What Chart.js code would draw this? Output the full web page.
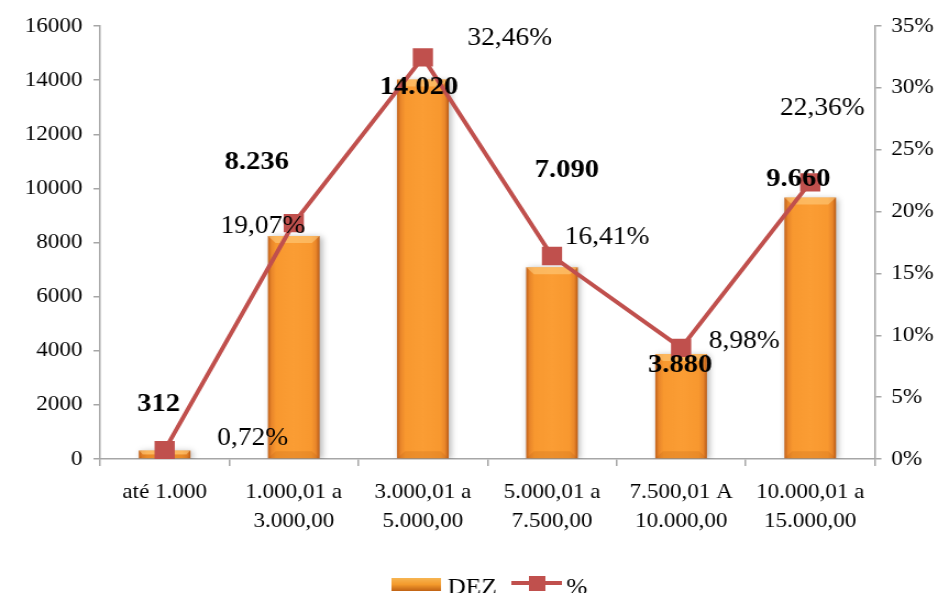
<!DOCTYPE html>
<html lang="pt">
<head>
    <meta charset="UTF-8">
    <title>DEZ - faixas</title>
    <script src="https://cdn.jsdelivr.net/npm/chart.js"></script>
    <style>
        body{margin:0; background:#fff; overflow:hidden;}
    </style>
</head>
<body>
    <!-- canvas drawn a bit narrower and widened by css (stretched serif text) -->
    <canvas id="myChart" width="863" height="593" style="width:949px;height:593px"></canvas>
    <script>
        const faixas = [['até 1.000'], ['1.000,01 a', '3.000,00'], ['3.000,01 a', '5.000,00'],
                        ['5.000,01 a', '7.500,00'], ['7.500,01 A', '10.000,00'], ['10.000,01 a', '15.000,00']]
        const dez = [312, 8236, 14020, 7090, 3880, 9660]
        const dezTexto = ['312', '8.236', '14.020', '7.090', '3.880', '9.660']
        const perc = [0.72, 19.07, 32.46, 16.41, 8.98, 22.36]
        const percTexto = ['0,72%', '19,07%', '32,46%', '16,41%', '8,98%', '22,36%']

        // where excel left the data labels, offset from each mark (px)
        const offDez = [[-6, -46], [-37, -74], [-4, 8], [15, -97], [-1, 11], [-12, -18]]
        const offPerc = [[88, -12], [-31, 3], [87, -19], [55, -19], [63, -6], [12, -74]]

        const SERIF = '"Liberation Serif", "Times New Roman", serif'
        const VERMELHO = '#c0504d'
        const CINZA = '#a6a6a6'
        const BAR_FRAC = 0.4
        const SX = 949 / 863

        function gradBarra(ctx, x0, x1){
            const g = ctx.createLinearGradient(x0, 0, x1, 0)
            g.addColorStop(0, '#c0601a')
            g.addColorStop(0.07, '#e9862a')
            g.addColorStop(0.16, '#f8982f')
            g.addColorStop(0.5, '#fb9d34')
            g.addColorStop(0.84, '#f8982f')
            g.addColorStop(0.93, '#e9862a')
            g.addColorStop(1, '#b85a16')
            return g
        }

        const sombra = {
            id: 'sombra',
            beforeDatasetDraw(chart, args){
                if(args.meta.type !== 'bar') return
                const ctx = chart.ctx
                ctx.save()
                ctx.shadowColor = 'rgba(0,0,0,0.3)'
                ctx.shadowBlur = 6
                ctx.shadowOffsetX = 2
                ctx.shadowOffsetY = 1
            },
            afterDatasetDraw(chart, args){
                if(args.meta.type !== 'bar') return
                const ctx = chart.ctx
                ctx.restore()
                // bevel: light strip on top, slightly darker one at the base
                ctx.save()
                args.meta.data.forEach(function(b){
                    const h = Math.min(7, (b.base - b.y) / 2)
                    const l = b.x - b.width / 2, r = b.x + b.width / 2
                    ctx.fillStyle = 'rgba(255,214,140,0.5)'
                    ctx.beginPath()
                    ctx.moveTo(l, b.y)
                    ctx.lineTo(r, b.y)
                    ctx.lineTo(r - h, b.y + h)
                    ctx.lineTo(l + h, b.y + h)
                    ctx.closePath()
                    ctx.fill()
                    ctx.fillStyle = 'rgba(170,85,10,0.18)'
                    ctx.beginPath()
                    ctx.moveTo(l, b.base)
                    ctx.lineTo(r, b.base)
                    ctx.lineTo(r - h, b.base - h)
                    ctx.lineTo(l + h, b.base - h)
                    ctx.closePath()
                    ctx.fill()
                })
                ctx.restore()
            }
        }

        const rotulos = {
            id: 'rotulos',
            afterDatasetsDraw(chart){
                const ctx = chart.ctx
                const barras = chart.getDatasetMeta(1).data
                const pontos = chart.getDatasetMeta(0).data
                ctx.save()
                ctx.fillStyle = '#000'
                ctx.textAlign = 'center'
                ctx.textBaseline = 'middle'
                ctx.font = 'bold 26px ' + SERIF
                barras.forEach(function(b, i){
                    ctx.fillText(dezTexto[i], b.x + offDez[i][0] / SX, b.y + offDez[i][1])
                })
                ctx.font = '25px ' + SERIF
                pontos.forEach(function(p, i){
                    ctx.fillText(percTexto[i], p.x + offPerc[i][0] / SX, p.y + offPerc[i][1])
                })
                ctx.restore()
            }
        }

        // legend drawn by hand: gradient swatch + line with square marker
        const legenda = {
            id: 'legenda',
            afterDraw(chart){
                const ctx = chart.ctx
                const y = 584
                ctx.save()
                const g = ctx.createLinearGradient(0, y - 6, 0, y + 7)
                g.addColorStop(0, '#f7b552')
                g.addColorStop(0.5, '#f39a2c')
                g.addColorStop(1, '#c06214')
                ctx.fillStyle = g
                ctx.fillRect(356, y - 6, 45, 13)
                ctx.fillStyle = '#000'
                ctx.font = '23px ' + SERIF
                ctx.textBaseline = 'alphabetic'
                ctx.fillText('DEZ', 407, 594)
                ctx.strokeStyle = VERMELHO
                ctx.lineWidth = 4
                ctx.beginPath()
                ctx.moveTo(465, y - 1)
                ctx.lineTo(511, y - 1)
                ctx.stroke()
                ctx.fillStyle = VERMELHO
                ctx.fillRect(481, y - 8, 15, 15)
                ctx.fillStyle = '#000'
                ctx.fillText('%', 515, 594)
                ctx.restore()
            }
        }

        const ctx = document.getElementById('myChart').getContext('2d')
        const myChart = new Chart(ctx, {
            data: {
                labels: faixas,
                datasets: [{
                    type: 'line',
                    label: '%',
                    data: perc,
                    yAxisID: 'y1',
                    order: 0,
                    borderColor: VERMELHO,
                    backgroundColor: VERMELHO,
                    borderWidth: 4,
                    pointStyle: 'rect',
                    pointRadius: 13,
                    pointBorderWidth: 0,
                    tension: 0
                }, {
                    type: 'bar',
                    label: 'DEZ',
                    data: dez,
                    yAxisID: 'y',
                    order: 1,
                    barPercentage: 0.8,
                    categoryPercentage: 0.5,
                    borderWidth: 0,
                    backgroundColor: function(c){
                        const chart = c.chart
                        const area = chart.chartArea
                        if(!area || c.type !== 'data') return '#f7962e'
                        const x = chart.scales.x.getPixelForValue(c.dataIndex)
                        const half = (area.right - area.left) / faixas.length * BAR_FRAC / 2
                        return gradBarra(chart.ctx, x - half, x + half)
                    }
                }]
            },
            options: {
                responsive: false,
                animation: false,
                devicePixelRatio: 1,
                layout: { padding: { top: 26, left: 0, right: 0, bottom: 0 } },
                plugins: { legend: { display: false }, tooltip: { enabled: false } },
                scales: {
                    x: {
                        offset: true,
                        grid: { drawOnChartArea: false, offset: true, tickLength: 7, color: CINZA, lineWidth: 1.5 },
                        border: { color: CINZA, width: 1.5 },
                        ticks: { color: '#000', font: { family: SERIF, size: 21, lineHeight: 1.38 }, padding: 12, maxRotation: 0, autoSkip: false },
                        afterFit: function(s){ s.height = 134 }
                    },
                    y: {
                        position: 'left',
                        min: 0, max: 16000,
                        grid: { drawOnChartArea: false, tickLength: 6, color: CINZA, lineWidth: 1.5 },
                        border: { color: CINZA, width: 1.5 },
                        ticks: { stepSize: 2000, color: '#000', font: { family: SERIF, size: 21 }, padding: 10,
                                 callback: function(v){ return String(v) } },
                        afterFit: function(s){ s.width = 91 }
                    },
                    y1: {
                        position: 'right',
                        min: 0, max: 35,
                        grid: { drawOnChartArea: false, tickLength: 6, color: CINZA, lineWidth: 1.5 },
                        border: { color: CINZA, width: 1.5 },
                        ticks: { stepSize: 5, color: '#000', font: { family: SERIF, size: 21 }, padding: 9,
                                 callback: function(v){ return v + '%' } },
                        afterFit: function(s){ s.width = 67.5 }
                    }
                }
            },
            plugins: [sombra, rotulos, legenda]
        })
    </script>
</body>
</html>
